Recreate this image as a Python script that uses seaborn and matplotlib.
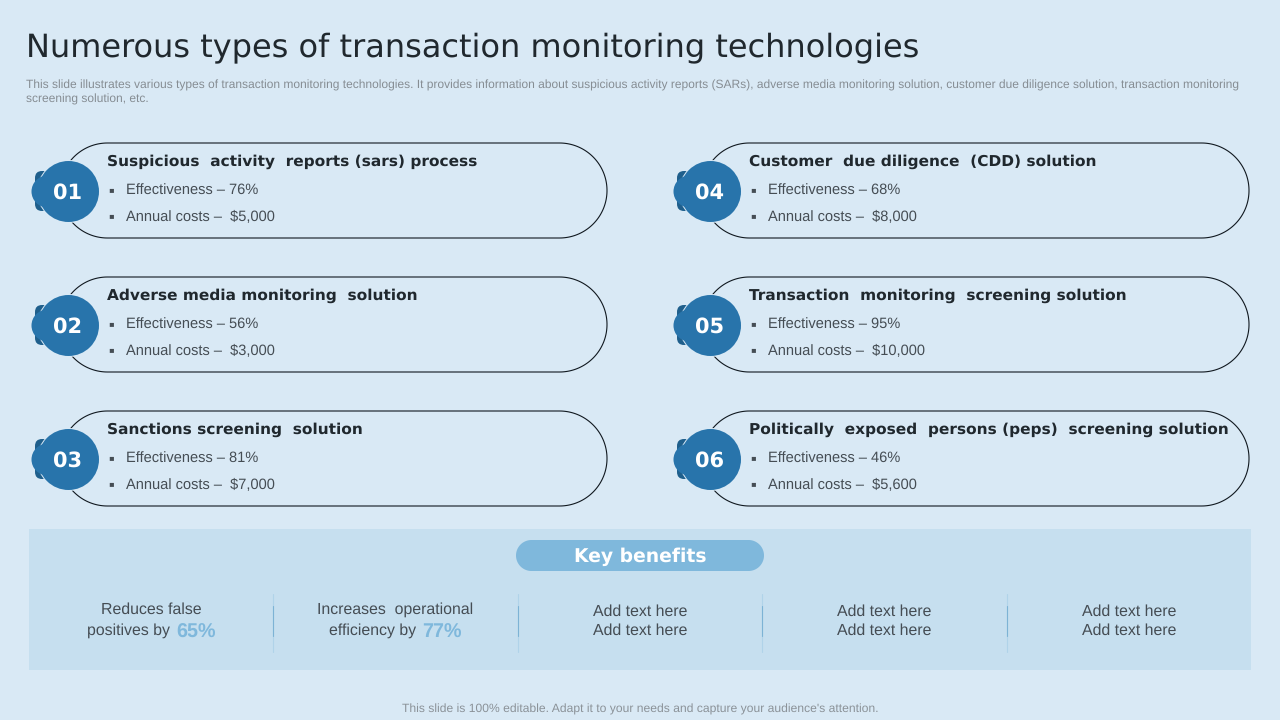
import matplotlib
matplotlib.use("Agg")
import matplotlib.pyplot as plt
from matplotlib.patches import FancyBboxPatch, Polygon, Rectangle
import numpy as np
import pandas as pd
import seaborn as sns

# slide texts
title = "Numerous types of transaction monitoring technologies"
subtitle = ("This slide illustrates various types of transaction monitoring technologies. It provides information about suspicious activity reports (SARs), adverse media monitoring solution, customer due diligence solution, transaction monitoring\n"
            "screening solution, etc.")
footer = "This slide is 100% editable. Adapt it to your needs and capture your audience's attention."

numbers = ["01", "02", "03", "04", "05", "06"]
headings = ["Suspicious  activity  reports (sars) process",
            "Adverse media monitoring  solution",
            "Sanctions screening  solution",
            "Customer  due diligence  (CDD) solution",
            "Transaction  monitoring  screening solution",
            "Politically  exposed  persons (peps)  screening solution"]
effectiveness = [76, 56, 81, 68, 95, 46]
annual_costs = [5000, 3000, 7000, 8000, 10000, 5600]

benefit_title = "Key benefits"
benefit_lines = [["Reduces false", "positives by"],
                 ["Increases  operational", "efficiency by"],
                 ["Add text here", "Add text here"],
                 ["Add text here", "Add text here"],
                 ["Add text here", "Add text here"]]
benefit_pct = ["65%", "77%", "", "", ""]

BG = "#d9e9f5"
PANEL = "#c6dfef"
BLUE = "#2874ab"
DARK = "#1f5f8c"
LIGHT = "#7fb8dc"
INK = "#20282e"
BODY = "#454d54"
BODY_FONT = "Liberation Sans"

sns.set_theme(style="white")
plt.rcParams["font.family"] = ["DejaVu Sans"]
plt.rcParams["text.hinting"] = "no_hinting"

fig = plt.figure(figsize=(12.8, 7.2), dpi=100, facecolor=BG)
ax = fig.add_axes([0, 0, 1, 1])


def pill(x0, y0, w, h, fc="none", ec="none", lw=1.0):
    # straight top and bottom with true half circles at the ends
    r = h / 2
    t = np.linspace(np.pi / 2, 3 * np.pi / 2, 90)
    left = np.column_stack([x0 + r + r * np.cos(t), y0 + r - r * np.sin(t)])
    right = np.column_stack([x0 + w - r - r * np.cos(t), y0 + r + r * np.sin(t)])
    ax.add_patch(Polygon(np.vstack([left, right]), closed=True, fc=fc, ec=ec, lw=lw, zorder=1))


ax.text(26, 47.5, title, fontsize=23.05, color=INK, va="center", ha="left")
ax.text(26, 92.5, subtitle, fontsize=8.65, color="#868d93", va="center", ha="left",
        family=BODY_FONT, linespacing=1.25)

# cards
col_x = [68, 710]
row_y = [143, 277, 411]
card_h = 95
cx, cy = [], []
for i, num in enumerate(numbers):
    x0 = col_x[i // 3]
    y0 = row_y[i % 3]
    pill(x0 - 8, y0, 547, card_h, ec="#10181f", lw=0.8)
    # dark tab peeking out from behind the badge
    ax.add_patch(FancyBboxPatch((x0 - 33, y0 + 28), 24, 40,
                                boxstyle="round,pad=0,rounding_size=7",
                                fc=DARK, ec="none", zorder=2))
    cx.append(x0)
    cy.append(y0 + 48)
    tx = x0 + 39
    ax.text(tx, y0 + 19, headings[i], fontsize=11.1, fontweight="bold", color=INK,
            va="center", ha="left")
    ax.text(tx + 1, y0 + 47, "▪", fontsize=6, color=BODY, va="center", ha="left")
    ax.text(tx + 1, y0 + 73, "▪", fontsize=6, color=BODY, va="center", ha="left")
    ax.text(tx + 19, y0 + 48, f"Effectiveness – {effectiveness[i]}%", fontsize=10.5,
            color=BODY, va="center", ha="left", family=BODY_FONT)
    ax.text(tx + 19, y0 + 74.5, f"Annual costs –  ${annual_costs[i]:,}", fontsize=10.5,
            color=BODY, va="center", ha="left", family=BODY_FONT)

badges = pd.DataFrame({"x": cx, "y": cy})
lobes = pd.DataFrame({"x": [x - 21 for x in cx], "y": cy})
# pale ring first, so the tab reads as two crescents
sns.scatterplot(data=badges, x="x", y="y", s=2057, color=BG, linewidth=0, ax=ax, zorder=3,
                legend=False)
sns.scatterplot(data=lobes, x="x", y="y", s=531, color=BLUE, linewidth=0, ax=ax, zorder=4,
                legend=False)
sns.scatterplot(data=badges, x="x", y="y", s=1929, color=BLUE, linewidth=0, ax=ax, zorder=4,
                legend=False)
for x, y, num in zip(cx, cy, numbers):
    ax.text(x, y + 1.5, num, fontsize=15, fontweight="bold", color="white", va="center",
            ha="center", zorder=5)

# key benefits panel
ax.add_patch(Rectangle((29, 529), 1222, 141, fc=PANEL, ec="none", zorder=0))
pill(516, 540, 248, 31, fc=LIGHT)
ax.text(640, 557, benefit_title, fontsize=13.5, fontweight="bold", color="white",
        va="center", ha="center", zorder=2)

benefit_cx = [151, 395, 640, 884, 1129]
pct_x = [176, 422]
for i, lines in enumerate(benefit_lines):
    if benefit_pct[i]:
        ax.text(benefit_cx[i], 610, lines[0], fontsize=11.4, color=BODY, va="center",
                ha="center", family=BODY_FONT)
        ax.text(pct_x[i] - 6, 631, lines[1], fontsize=11.4, color=BODY, va="center",
                ha="right", family=BODY_FONT)
        ax.text(pct_x[i], 632.5, benefit_pct[i], fontsize=14.2, fontweight="bold", color=LIGHT,
                va="center", ha="left", family=BODY_FONT)
    else:
        ax.text(benefit_cx[i], 612, lines[0], fontsize=11.4, color=BODY, va="center",
                ha="center", family=BODY_FONT)
        ax.text(benefit_cx[i], 631, lines[1], fontsize=11.4, color=BODY, va="center",
                ha="center", family=BODY_FONT)

# separators fade out at both ends
for sx in [273, 518, 762, 1007]:
    ax.plot([sx, sx], [594, 652], color=LIGHT, lw=0.8, alpha=0.3, zorder=1)
    ax.plot([sx, sx], [606, 636], color="#5c9fc9", lw=0.8, alpha=0.6, zorder=1)

ax.text(640, 709, footer, fontsize=8.7, color="#8b9298", va="center", ha="center",
        family=BODY_FONT)

ax.set_xlim(0, 1280)
ax.set_ylim(720, 0)
ax.axis("off")

fig.savefig("out.png", dpi=100, facecolor=BG)
